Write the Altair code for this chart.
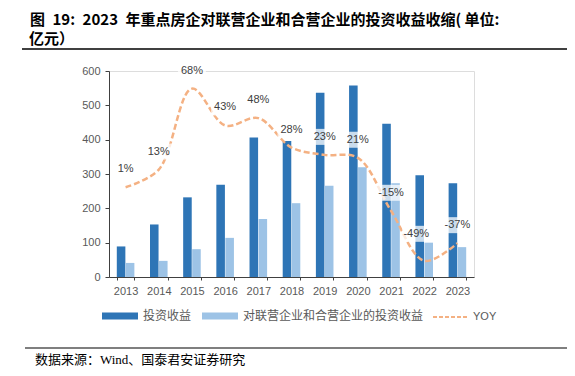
import altair as alt
import pandas as pd

years = ["2013", "2014", "2015", "2016", "2017", "2018", "2019", "2020", "2021", "2022", "2023"]
invest_income = [89, 153, 232, 269, 406, 396, 537, 558, 446, 296, 273]
jv_income = [41, 47, 81, 114, 169, 215, 266, 320, 273, 100, 87]
yoy = [1, 13, 68, 43, 48, 28, 23, 21, -15, -49, -37]

series_names = ["投资收益", "对联营企业和合营企业的投资收益"]
bar_colors = ["#2E75B6", "#9DC3E6"]
line_name = "YOY"
line_color = "#F4B183"

title_line1 = "图\u200219:\u20022023\u2002年重点房企对联营企业和合营企业的投资收益收缩( 单位:"
title_line2 = "亿元）"
source_text = "数据来源：Wind、国泰君安证券研究"

bars_df = pd.DataFrame(
    [{"year": y, "series": series_names[0], "value": v} for y, v in zip(years, invest_income)]
    + [{"year": y, "series": series_names[1], "value": v} for y, v in zip(years, jv_income)]
)
line_df = pd.DataFrame({"year": years, "yoy": yoy, "s": [line_name] * len(years)})
line_df["label"] = [f"{v}%" for v in yoy]

AX = "#404040"
LBL = "#595959"
FONT = "Liberation Sans"
CJK = "Noto Sans CJK SC"

x_scale = alt.Scale(domain=years, paddingInner=0.47, paddingOuter=0.235)
x_enc = alt.X("year:N", scale=x_scale,
              axis=alt.Axis(title=None, labelAngle=0, labelColor=LBL, labelFont=FONT,
                            labelFontSize=11, labelPadding=5, domainColor=AX, tickColor=AX,
                            tickBand="extent", tickSize=3, grid=False))

bars = alt.Chart(bars_df).mark_bar().encode(
    x=x_enc,
    xOffset=alt.XOffset("series:N", sort=series_names, scale=alt.Scale(paddingInner=0.05)),
    y=alt.Y("value:Q", scale=alt.Scale(domain=[0, 600]),
            axis=alt.Axis(title=None, orient="left", values=[0, 100, 200, 300, 400, 500, 600],
                          grid=False, labelColor=LBL, labelFont=FONT, labelFontSize=11,
                          domainColor=AX, tickColor=AX, tickSize=4, labelPadding=5)),
    color=alt.Color("series:N", sort=series_names,
                    scale=alt.Scale(domain=series_names, range=bar_colors),
                    legend=alt.Legend(title=None, orient="none", direction="horizontal",
                                      legendX=-7, legendY=227, padding=0,
                                      symbolType="M-1,-0.2H1V0.2H-1Z", symbolSize=1296,
                                      symbolStrokeWidth=0, labelFont=CJK, labelFontSize=12,
                                      labelColor=LBL, labelOffset=5, columnPadding=10,
                                      labelLimit=400)),
)

y_right = alt.Y("yoy:Q", scale=alt.Scale(domain=[-60, 80]),
                axis=alt.Axis(title=None, orient="right", values=[-60, -40, -20, 0, 20, 40, 60, 80],
                              labelExpr="datum.value + '%'", grid=False, labelColor=LBL,
                              labelFont=FONT, labelFontSize=11, domainColor=AX, tickColor=AX,
                              tickSize=4, labelPadding=5))

line = alt.Chart(line_df).mark_line(interpolate="catmull-rom", strokeWidth=2.5,
                                    strokeDash=[6, 3]).encode(
    x=alt.X("year:N"),
    y=y_right,
    color=alt.Color("s:N", scale=alt.Scale(domain=[line_name], range=[line_color]),
                    legend=alt.Legend(title=None, orient="none", direction="horizontal",
                                      legendX=323, legendY=227, padding=0,
                                      symbolType="stroke", symbolSize=1296,
                                      symbolStrokeWidth=2, symbolDash=[4, 2],
                                      labelFont=FONT, labelFontSize=11, labelColor=LBL,
                                      labelOffset=3)),
)

main_lbl = line_df[line_df["year"] != "2022"]
side_lbl = line_df[line_df["year"] == "2022"]

boxes = alt.Chart(main_lbl).mark_rect(width=28, height=16, yOffset=-18, fill="white",
                                       opacity=0.75).encode(
    x=alt.X("year:N"), y=alt.Y("yoy:Q", axis=None))
texts = alt.Chart(main_lbl).mark_text(dy=-18, font=FONT, fontSize=11, color=AX).encode(
    x=alt.X("year:N"), y=alt.Y("yoy:Q", axis=None), text="label:N")
boxes2 = alt.Chart(side_lbl).mark_rect(width=28, height=16, yOffset=-27, xOffset=-8,
                                        fill="white", opacity=0.75).encode(
    x=alt.X("year:N"), y=alt.Y("yoy:Q", axis=None))
texts2 = alt.Chart(side_lbl).mark_text(dy=-27, dx=-8, font=FONT, fontSize=11, color=AX).encode(
    x=alt.X("year:N"), y=alt.Y("yoy:Q", axis=None), text="label:N")

line_layer = alt.layer(line, boxes, texts, boxes2, texts2)

anno = pd.DataFrame({"t": [0]})
t1 = alt.Chart(anno).mark_text(text=title_line1, align="left", baseline="middle", font=CJK,
                               fontSize=15, fontWeight="bold", color="#000000").encode(
    x=alt.value(-79), y=alt.value(-51))
t2 = alt.Chart(anno).mark_text(text=title_line2, align="left", baseline="middle", font=CJK,
                               fontSize=15, fontWeight="bold", color="#000000").encode(
    x=alt.value(-80), y=alt.value(-32))
r1 = alt.Chart(anno).mark_rule(color="#000000", strokeWidth=1.5).encode(
    x=alt.value(-87), x2=alt.value(458), y=alt.value(-22))
r2 = alt.Chart(anno).mark_rule(color="#000000", strokeWidth=1.2).encode(
    x=alt.value(-84), x2=alt.value(458), y=alt.value(277))
src = alt.Chart(anno).mark_text(text=source_text, align="left", baseline="middle",
                                font="Liberation Serif, Noto Sans CJK SC", fontSize=13,
                                color="#000000").encode(
    x=alt.value(-74), y=alt.value(289))

chart = alt.layer(bars, line_layer, t1, t2, r1, r2, src).resolve_scale(
    y="independent", color="independent"
).properties(
    width=365, height=206,
    padding={"left": 101, "top": 63, "right": 93, "bottom": 91},
    autosize=alt.AutoSizeParams(type="none"),
).configure_view(fill="#FCFCFC", stroke=None).configure(background="white")

chart.save("out.html", embed_options={"renderer": "svg", "actions": False})
